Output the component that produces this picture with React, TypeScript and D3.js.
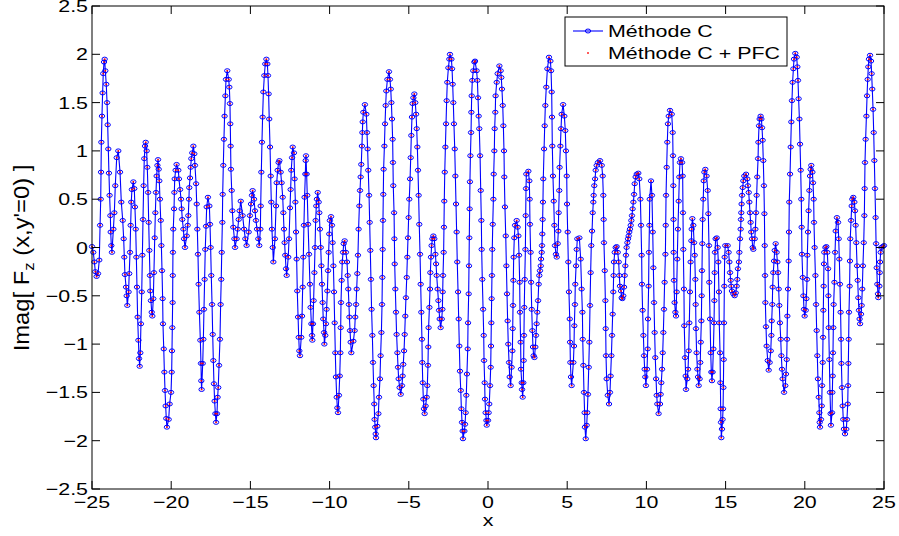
import React from 'react';
import * as d3 from 'd3';

// ---------- chart data ----------
const xTicks = [-25, -20, -15, -10, -5, 0, 5, 10, 15, 20, 25];
const yTicks = [-2.5, -2, -1.5, -1, -0.5, 0, 0.5, 1, 1.5, 2, 2.5];
const legendLabels = ['Méthode C', 'Méthode C + PFC'];
const xLabel = 'x';

// Méthode C : [x, Imag F_z]
const methodeC: [number, number][] = [
  [-25.0, 0.01], [-24.92, -0.05], [-24.85, -0.15], [-24.79, -0.25], [-24.71, -0.3], [-24.62, -0.27], [-24.54, -0.13],
  [-24.49, 0.23], [-24.45, 0.5], [-24.43, 0.78], [-24.41, 1.09], [-24.37, 1.36], [-24.33, 1.6], [-24.29, 1.8],
  [-24.24, 1.92], [-24.2, 1.95], [-24.16, 1.83], [-24.1, 1.69], [-24.05, 1.5], [-24.01, 1.27], [-23.97, 1.02],
  [-23.93, 0.77], [-23.89, 0.54], [-23.84, 0.33], [-23.82, 0.16], [-23.78, 0.02], [-23.74, -0.05], [-23.65, 0.19],
  [-23.59, 0.36], [-23.53, 0.64], [-23.44, 0.93], [-23.34, 1.0], [-23.23, 0.78], [-23.15, 0.47], [-23.06, 0.28],
  [-23.0, 0.09], [-22.96, -0.1], [-22.92, -0.28], [-22.85, -0.41], [-22.81, -0.5], [-22.77, -0.6], [-22.69, -0.46],
  [-22.65, -0.27], [-22.6, -0.05], [-22.56, 0.23], [-22.52, 0.47], [-22.48, 0.6], [-22.39, 0.68], [-22.33, 0.61],
  [-22.29, 0.42], [-22.24, 0.19], [-22.2, -0.1], [-22.16, -0.41], [-22.12, -0.72], [-22.07, -0.96], [-22.03, -1.15],
  [-21.99, -1.23], [-21.95, -1.09], [-21.91, -0.79], [-21.86, -0.46], [-21.82, -0.08], [-21.78, 0.29], [-21.74, 0.64],
  [-21.7, 0.92], [-21.65, 1.05], [-21.61, 1.09], [-21.55, 1.0], [-21.51, 0.83], [-21.46, 0.57], [-21.42, 0.26],
  [-21.38, -0.03], [-21.34, -0.29], [-21.32, -0.45], [-21.28, -0.55], [-21.23, -0.67], [-21.19, -0.71], [-21.13, -0.53],
  [-21.09, -0.26], [-21.04, 0.1], [-21.0, 0.36], [-20.96, 0.57], [-20.92, 0.74], [-20.87, 0.85], [-20.83, 0.91],
  [-20.79, 0.81], [-20.75, 0.69], [-20.71, 0.5], [-20.66, 0.28], [-20.62, 0.02], [-20.58, -0.24], [-20.54, -0.53],
  [-20.52, -0.79], [-20.47, -1.05], [-20.43, -1.29], [-20.39, -1.48], [-20.35, -1.64], [-20.31, -1.77], [-20.27, -1.86],
  [-20.16, -1.78], [-20.1, -1.62], [-20.01, -1.5], [-19.97, -1.29], [-19.95, -1.07], [-19.93, -0.83], [-19.91, -0.57],
  [-19.9, -0.29], [-19.89, -0.05], [-19.87, 0.19], [-19.82, 0.4], [-19.8, 0.57], [-19.78, 0.71], [-19.72, 0.8],
  [-19.66, 0.86], [-19.55, 0.8], [-19.51, 0.71], [-19.44, 0.6], [-19.38, 0.5], [-19.34, 0.4], [-19.3, 0.29],
  [-19.23, 0.19], [-19.19, 0.09], [-19.13, 0.0], [-19.02, 0.12], [-18.96, 0.23], [-18.92, 0.33], [-18.88, 0.5],
  [-18.86, 0.62], [-18.81, 0.72], [-18.77, 0.83], [-18.73, 0.92], [-18.67, 0.98], [-18.6, 1.05], [-18.54, 0.97],
  [-18.5, 0.85], [-18.43, 0.66], [-18.39, 0.45], [-18.35, 0.19], [-18.31, -0.07], [-18.27, -0.38], [-18.22, -0.67],
  [-18.16, -0.96], [-18.12, -1.2], [-18.1, -1.38], [-18.08, -1.47], [-18.01, -1.2], [-17.97, -0.95], [-17.93, -0.64],
  [-17.89, -0.33], [-17.85, -0.02], [-17.8, 0.22], [-17.76, 0.42], [-17.68, 0.52], [-17.59, 0.43], [-17.55, 0.24],
  [-17.51, 0.0], [-17.47, -0.29], [-17.42, -0.59], [-17.38, -0.9], [-17.34, -1.17], [-17.3, -1.41], [-17.26, -1.59],
  [-17.21, -1.72], [-17.17, -1.81], [-17.11, -1.72], [-17.07, -1.55], [-17.03, -1.45], [-16.98, -1.22], [-16.92, -0.95],
  [-16.88, -0.59], [-16.84, -0.33], [-16.81, -0.05], [-16.77, 0.26], [-16.75, 0.55], [-16.71, 0.85], [-16.67, 1.12],
  [-16.63, 1.36], [-16.58, 1.57], [-16.54, 1.74], [-16.46, 1.83], [-16.37, 1.74], [-16.33, 1.66], [-16.29, 1.49],
  [-16.27, 1.28], [-16.25, 1.05], [-16.23, 0.81], [-16.18, 0.59], [-16.14, 0.38], [-16.08, 0.21], [-16.01, 0.09],
  [-15.97, 0.0], [-15.87, 0.09], [-15.8, 0.19], [-15.74, 0.29], [-15.68, 0.38], [-15.61, 0.48], [-15.49, 0.33],
  [-15.4, 0.19], [-15.32, 0.09], [-15.24, 0.02], [-15.11, 0.16], [-15.03, 0.33], [-14.96, 0.45], [-14.9, 0.54],
  [-14.86, 0.59], [-14.77, 0.5], [-14.71, 0.38], [-14.65, 0.28], [-14.58, 0.19], [-14.5, 0.09], [-14.44, 0.02],
  [-14.37, 0.19], [-14.35, 0.43], [-14.31, 0.78], [-14.27, 1.09], [-14.23, 1.35], [-14.18, 1.61], [-14.12, 1.78],
  [-14.06, 1.9], [-13.99, 1.95], [-13.93, 1.9], [-13.89, 1.78], [-13.85, 1.59], [-13.81, 1.33], [-13.76, 1.04],
  [-13.72, 0.74], [-13.68, 0.47], [-13.64, 0.19], [-13.59, 0.0], [-13.55, -0.15], [-13.45, 0.09], [-13.38, 0.43],
  [-13.34, 0.67], [-13.28, 0.8], [-13.22, 0.88], [-13.17, 0.9], [-13.09, 0.78], [-13.03, 0.67], [-12.96, 0.52],
  [-12.92, 0.36], [-12.88, 0.19], [-12.84, 0.05], [-12.8, -0.08], [-12.75, -0.22], [-12.71, -0.29], [-12.61, -0.1],
  [-12.56, 0.09], [-12.5, 0.41], [-12.46, 0.6], [-12.42, 0.8], [-12.37, 0.93], [-12.33, 1.04], [-12.25, 0.98],
  [-12.21, 0.71], [-12.16, 0.47], [-12.12, 0.16], [-12.08, -0.12], [-12.04, -0.45], [-11.99, -0.72], [-11.95, -0.93],
  [-11.91, -1.07], [-11.87, -1.12], [-11.79, -0.93], [-11.74, -0.71], [-11.7, -0.41], [-11.66, -0.1], [-11.62, 0.23],
  [-11.58, 0.52], [-11.53, 0.76], [-11.51, 0.9], [-11.49, 0.95], [-11.45, 0.76], [-11.41, 0.54], [-11.36, 0.24],
  [-11.3, -0.07], [-11.24, -0.38], [-11.2, -0.62], [-11.15, -0.79], [-11.11, -0.91], [-11.09, -0.96], [-11.05, -0.79],
  [-11.01, -0.55], [-10.96, -0.26], [-10.92, 0.0], [-10.88, 0.28], [-10.84, 0.43], [-10.8, 0.5], [-10.75, 0.57],
  [-10.69, 0.47], [-10.65, 0.36], [-10.61, 0.19], [-10.56, 0.0], [-10.52, -0.19], [-10.48, -0.38], [-10.44, -0.57],
  [-10.4, -0.74], [-10.35, -0.88], [-10.33, -1.0], [-10.27, -0.91], [-10.23, -0.79], [-10.19, -0.64], [-10.14, -0.45],
  [-10.1, -0.24], [-10.06, -0.05], [-10.02, 0.14], [-9.98, 0.28], [-9.91, 0.32], [-9.85, 0.23], [-9.81, 0.05],
  [-9.76, -0.19], [-9.72, -0.46], [-9.68, -0.78], [-9.64, -1.09], [-9.6, -1.34], [-9.55, -1.55], [-9.51, -1.66],
  [-9.47, -1.71], [-9.41, -1.53], [-9.36, -1.33], [-9.32, -1.09], [-9.3, -0.83], [-9.28, -0.57], [-9.24, -0.34],
  [-9.2, -0.15], [-9.15, -0.05], [-9.11, 0.04], [-9.05, 0.07], [-8.97, -0.05], [-8.9, -0.15], [-8.86, -0.29],
  [-8.82, -0.43], [-8.78, -0.59], [-8.75, -0.72], [-8.71, -0.86], [-8.67, -0.98], [-8.63, -1.09], [-8.5, -0.97],
  [-8.42, -0.86], [-8.38, -0.72], [-8.33, -0.59], [-8.29, -0.43], [-8.25, -0.27], [-8.21, -0.08], [-8.17, 0.19],
  [-8.12, 0.43], [-8.08, 0.59], [-8.04, 0.73], [-8.0, 0.86], [-7.96, 1.05], [-7.93, 1.19], [-7.91, 1.3],
  [-7.87, 1.4], [-7.77, 1.48], [-7.68, 1.38], [-7.64, 1.19], [-7.6, 1.02], [-7.56, 0.8], [-7.51, 0.54],
  [-7.47, 0.26], [-7.43, -0.03], [-7.39, -0.33], [-7.35, -0.64], [-7.3, -0.91], [-7.26, -1.19], [-7.22, -1.43],
  [-7.18, -1.62], [-7.16, -1.78], [-7.12, -1.86], [-7.09, -1.93], [-7.07, -1.97], [-6.99, -1.85], [-6.92, -1.72],
  [-6.88, -1.55], [-6.82, -1.36], [-6.78, -1.12], [-6.73, -0.88], [-6.69, -0.59], [-6.67, -0.31], [-6.65, -0.02],
  [-6.63, 0.28], [-6.61, 0.55], [-6.59, 0.81], [-6.54, 1.05], [-6.5, 1.28], [-6.46, 1.47], [-6.42, 1.62],
  [-6.35, 1.74], [-6.25, 1.82], [-6.19, 1.74], [-6.14, 1.64], [-6.1, 1.5], [-6.06, 1.33], [-6.02, 1.12],
  [-6.0, 0.88], [-5.98, 0.64], [-5.93, 0.36], [-5.91, 0.09], [-5.89, -0.17], [-5.85, -0.43], [-5.81, -0.67],
  [-5.77, -0.9], [-5.72, -1.09], [-5.68, -1.24], [-5.64, -1.36], [-5.58, -1.45], [-5.51, -1.52], [-5.43, -1.43],
  [-5.39, -1.33], [-5.35, -1.21], [-5.3, -1.07], [-5.26, -0.9], [-5.22, -0.71], [-5.18, -0.52], [-5.13, -0.31],
  [-5.09, -0.1], [-5.05, 0.1], [-5.01, 0.31], [-4.97, 0.5], [-4.92, 0.71], [-4.88, 0.93], [-4.84, 1.16],
  [-4.8, 1.35], [-4.76, 1.49], [-4.71, 1.55], [-4.65, 1.59], [-4.59, 1.5], [-4.54, 1.38], [-4.5, 1.23],
  [-4.46, 1.04], [-4.42, 0.8], [-4.38, 0.54], [-4.34, 0.24], [-4.29, -0.07], [-4.25, -0.38], [-4.21, -0.67],
  [-4.17, -0.95], [-4.15, -1.19], [-4.12, -1.4], [-4.08, -1.57], [-4.04, -1.67], [-4.0, -1.72], [-3.94, -1.64],
  [-3.87, -1.55], [-3.83, -1.43], [-3.79, -1.22], [-3.77, -1.03], [-3.75, -0.83], [-3.7, -0.62], [-3.66, -0.43],
  [-3.64, -0.26], [-3.6, -0.1], [-3.56, 0.02], [-3.51, 0.09], [-3.45, 0.12], [-3.39, 0.09], [-3.32, -0.07],
  [-3.28, -0.17], [-3.24, -0.29], [-3.18, -0.43], [-3.13, -0.55], [-3.09, -0.65], [-3.05, -0.74], [-2.99, -0.83],
  [-2.92, -0.74], [-2.88, -0.64], [-2.86, -0.46], [-2.84, -0.29], [-2.8, -0.05], [-2.78, 0.21], [-2.76, 0.48],
  [-2.73, 0.78], [-2.69, 1.04], [-2.65, 1.28], [-2.61, 1.52], [-2.57, 1.71], [-2.5, 1.86], [-2.44, 1.95],
  [-2.4, 2.0], [-2.31, 1.95], [-2.27, 1.85], [-2.23, 1.69], [-2.19, 1.5], [-2.15, 1.28], [-2.1, 1.02],
  [-2.06, 0.74], [-2.02, 0.45], [-1.98, 0.16], [-1.94, -0.15], [-1.89, -0.46], [-1.85, -0.74], [-1.81, -1.02],
  [-1.77, -1.28], [-1.72, -1.48], [-1.68, -1.67], [-1.64, -1.81], [-1.6, -1.9], [-1.58, -1.98], [-1.49, -1.9],
  [-1.45, -1.83], [-1.41, -1.71], [-1.37, -1.53], [-1.33, -1.31], [-1.28, -1.05], [-1.26, -0.78], [-1.22, -0.48],
  [-1.2, -0.19], [-1.18, 0.1], [-1.16, 0.4], [-1.14, 0.68], [-1.11, 0.95], [-1.07, 1.19], [-1.05, 1.4],
  [-1.03, 1.57], [-0.99, 1.73], [-0.93, 1.83], [-0.86, 1.92], [-0.82, 1.93], [-0.72, 1.83], [-0.67, 1.73],
  [-0.63, 1.55], [-0.59, 1.36], [-0.55, 1.23], [-0.5, 0.95], [-0.46, 0.59], [-0.42, 0.28], [-0.4, -0.02],
  [-0.36, -0.33], [-0.31, -0.64], [-0.27, -0.91], [-0.25, -1.17], [-0.21, -1.4], [-0.19, -1.57], [-0.15, -1.71],
  [-0.1, -1.79], [-0.08, -1.84], [0.0, -1.79], [0.04, -1.71], [0.08, -1.62], [0.13, -1.43], [0.17, -1.24],
  [0.19, -1.02], [0.21, -0.78], [0.23, -0.53], [0.25, -0.29], [0.27, -0.02], [0.3, 0.24], [0.34, 0.5],
  [0.36, 0.76], [0.4, 1.0], [0.42, 1.23], [0.46, 1.4], [0.48, 1.57], [0.55, 1.71], [0.61, 1.8],
  [0.72, 1.88], [0.8, 1.83], [0.84, 1.76], [0.88, 1.64], [0.93, 1.47], [0.97, 1.26], [1.01, 1.0],
  [1.03, 0.73], [1.07, 0.42], [1.12, 0.12], [1.16, -0.19], [1.2, -0.48], [1.24, -0.76], [1.28, -1.0],
  [1.33, -1.19], [1.37, -1.34], [1.43, -1.43], [1.49, -1.24], [1.54, -1.07], [1.56, -0.84], [1.58, -0.6],
  [1.6, -0.34], [1.62, -0.1], [1.66, 0.1], [1.71, 0.23], [1.81, 0.28], [1.87, 0.21], [1.92, 0.12],
  [1.96, -0.08], [2.0, -0.36], [2.02, -0.67], [2.06, -0.98], [2.08, -1.26], [2.13, -1.4], [2.15, -1.47],
  [2.19, -1.55], [2.23, -1.4], [2.25, -1.17], [2.27, -0.91], [2.29, -0.62], [2.32, -0.33], [2.36, -0.02],
  [2.38, 0.33], [2.4, 0.61], [2.42, 0.76], [2.55, 0.79], [2.61, 0.69], [2.63, 0.5], [2.65, 0.24],
  [2.69, -0.05], [2.72, -0.36], [2.76, -0.64], [2.8, -0.86], [2.84, -1.03], [2.88, -1.12], [2.93, -1.14],
  [2.99, -1.03], [3.03, -0.91], [3.07, -0.79], [3.11, -0.67], [3.16, -0.55], [3.2, -0.38], [3.24, -0.29],
  [3.28, -0.24], [3.33, -0.19], [3.35, -0.12], [3.39, -0.05], [3.41, 0.02], [3.43, 0.14], [3.45, 0.29],
  [3.47, 0.47], [3.49, 0.71], [3.54, 1.02], [3.58, 1.26], [3.62, 1.47], [3.68, 1.66], [3.75, 1.85],
  [3.85, 1.97], [3.94, 1.93], [3.98, 1.83], [4.02, 1.61], [4.04, 1.35], [4.06, 1.05], [4.1, 0.74],
  [4.15, 0.48], [4.19, 0.23], [4.23, 0.02], [4.29, -0.07], [4.34, -0.1], [4.4, 0.04], [4.44, 0.17],
  [4.46, 0.36], [4.5, 0.59], [4.52, 0.83], [4.57, 1.05], [4.61, 1.23], [4.65, 1.38], [4.74, 1.48],
  [4.82, 1.36], [4.88, 1.21], [4.92, 1.0], [4.97, 0.74], [4.99, 0.45], [5.03, 0.16], [5.07, -0.15],
  [5.11, -0.46], [5.16, -0.74], [5.18, -0.98], [5.2, -1.19], [5.24, -1.34], [5.28, -1.43], [5.39, -1.19],
  [5.43, -1.02], [5.45, -0.81], [5.49, -0.59], [5.51, -0.38], [5.56, -0.19], [5.6, -0.02], [5.64, 0.09],
  [5.77, 0.1], [5.85, -0.12], [5.91, -0.43], [5.96, -0.67], [5.98, -0.95], [6.02, -1.22], [6.06, -1.5],
  [6.1, -1.71], [6.12, -1.86], [6.17, -1.98], [6.23, -1.84], [6.27, -1.71], [6.31, -1.52], [6.36, -1.24],
  [6.4, -0.98], [6.44, -0.6], [6.48, -0.26], [6.52, 0.02], [6.57, 0.17], [6.61, 0.36], [6.65, 0.47],
  [6.67, 0.54], [6.71, 0.64], [6.76, 0.71], [6.8, 0.8], [6.86, 0.85], [6.94, 0.88], [7.07, 0.9],
  [7.18, 0.85], [7.24, 0.74], [7.28, 0.54], [7.3, 0.29], [7.32, 0.05], [7.37, -0.24], [7.41, -0.55],
  [7.43, -0.84], [7.45, -1.12], [7.49, -1.36], [7.56, -1.53], [7.64, -1.62], [7.7, -1.5], [7.74, -1.33],
  [7.79, -1.12], [7.83, -0.91], [7.87, -0.69], [7.91, -0.46], [7.93, -0.29], [7.95, -0.15], [8.0, -0.05],
  [8.06, 0.0], [8.12, 0.01], [8.19, -0.05], [8.25, -0.15], [8.29, -0.29], [8.33, -0.4], [8.4, -0.45],
  [8.44, -0.52], [8.48, -0.53], [8.54, -0.5], [8.59, -0.41], [8.63, -0.29], [8.67, -0.19], [8.71, -0.08],
  [8.75, 0.0], [8.8, 0.05], [8.84, 0.09], [8.88, 0.12], [8.92, 0.16], [8.96, 0.19], [9.01, 0.23],
  [9.05, 0.28], [9.09, 0.33], [9.13, 0.4], [9.18, 0.47], [9.22, 0.55], [9.26, 0.66], [9.32, 0.73],
  [9.39, 0.76], [9.49, 0.77], [9.55, 0.71], [9.62, 0.5], [9.66, 0.23], [9.7, -0.08], [9.72, -0.38],
  [9.76, -0.65], [9.81, -0.91], [9.85, -1.12], [9.89, -1.26], [9.93, -1.34], [9.97, -1.43], [10.04, -1.26],
  [10.08, -1.05], [10.1, -0.74], [10.14, -0.4], [10.16, -0.05], [10.19, 0.23], [10.21, 0.5], [10.29, 0.69],
  [10.35, 0.54], [10.4, 0.16], [10.44, -0.21], [10.48, -0.57], [10.52, -0.88], [10.56, -1.14], [10.61, -1.36],
  [10.65, -1.53], [10.69, -1.62], [10.77, -1.72], [10.86, -1.62], [10.9, -1.52], [10.94, -1.4], [10.99, -1.26],
  [11.03, -1.09], [11.07, -0.88], [11.11, -0.64], [11.15, -0.36], [11.2, -0.07], [11.22, 0.23], [11.24, 0.54],
  [11.28, 0.83], [11.32, 1.09], [11.36, 1.28], [11.41, 1.36], [11.49, 1.42], [11.6, 1.38], [11.66, 1.19],
  [11.68, 0.95], [11.7, 0.64], [11.71, 0.29], [11.72, -0.05], [11.74, -0.34], [11.78, -0.57], [11.83, -0.67],
  [11.87, -0.71], [11.91, -0.46], [11.95, -0.12], [11.99, 0.19], [12.04, 0.48], [12.08, 0.73], [12.12, 0.88],
  [12.18, 0.92], [12.25, 0.88], [12.29, 0.74], [12.31, 0.36], [12.33, -0.02], [12.37, -0.43], [12.39, -0.81],
  [12.44, -1.14], [12.48, -1.33], [12.5, -1.47], [12.58, -1.36], [12.63, -1.26], [12.67, -1.07], [12.71, -0.78],
  [12.75, -0.46], [12.79, -0.15], [12.84, 0.07], [12.86, 0.19], [12.9, 0.3], [12.96, 0.23], [13.01, 0.05],
  [13.05, -0.08], [13.09, -0.33], [13.11, -0.59], [13.13, -0.84], [13.17, -1.09], [13.22, -1.26], [13.26, -1.34],
  [13.3, -1.43], [13.36, -1.36], [13.4, -1.19], [13.43, -0.98], [13.47, -0.76], [13.49, -0.5], [13.51, -0.24],
  [13.53, 0.04], [13.55, 0.29], [13.59, 0.5], [13.62, 0.69], [13.66, 0.78], [13.72, 0.81], [13.8, 0.74],
  [13.87, 0.59], [13.91, 0.35], [13.95, 0.02], [13.97, -0.36], [14.02, -0.74], [14.06, -1.09], [14.1, -1.29],
  [14.14, -1.38], [14.18, -1.29], [14.23, -1.05], [14.27, -0.78], [14.29, -0.55], [14.31, -0.26], [14.33, -0.05],
  [14.37, 0.09], [14.44, 0.1], [14.5, 0.0], [14.54, -0.15], [14.58, -0.46], [14.6, -0.78], [14.65, -1.09],
  [14.67, -1.4], [14.69, -1.67], [14.71, -1.81], [14.73, -1.97], [14.77, -1.88], [14.81, -1.78], [14.84, -1.67],
  [14.86, -1.45], [14.88, -1.16], [14.9, -0.78], [14.92, -0.4], [14.94, -0.1], [14.98, 0.02], [15.13, 0.02],
  [15.19, -0.05], [15.24, -0.15], [15.28, -0.26], [15.32, -0.34], [15.36, -0.4], [15.4, -0.45], [15.49, -0.48],
  [15.57, -0.5], [15.64, -0.47], [15.7, -0.4], [15.74, -0.33], [15.78, -0.22], [15.84, -0.15], [15.87, -0.05],
  [15.91, 0.09], [15.95, 0.19], [15.97, 0.29], [15.99, 0.36], [16.01, 0.45], [16.04, 0.54], [16.08, 0.62],
  [16.12, 0.69], [16.18, 0.74], [16.29, 0.76], [16.37, 0.71], [16.41, 0.64], [16.46, 0.57], [16.5, 0.47],
  [16.54, 0.36], [16.58, 0.26], [16.62, 0.16], [16.67, 0.09], [16.71, 0.0], [16.75, -0.02], [16.84, 0.09],
  [16.88, 0.19], [16.92, 0.36], [16.96, 0.54], [17.0, 0.73], [17.05, 0.92], [17.07, 1.09], [17.11, 1.26],
  [17.15, 1.33], [17.21, 1.36], [17.26, 1.33], [17.3, 1.24], [17.34, 1.11], [17.38, 0.9], [17.42, 0.64],
  [17.45, 0.35], [17.47, 0.02], [17.49, -0.29], [17.51, -0.57], [17.55, -0.82], [17.59, -1.02], [17.66, -1.17],
  [17.72, -1.27], [17.78, -1.19], [17.85, -1.07], [17.89, -0.91], [17.91, -0.76], [17.95, -0.59], [17.97, -0.41],
  [18.01, -0.26], [18.06, -0.14], [18.1, -0.03], [18.16, 0.04], [18.22, -0.05], [18.27, -0.15], [18.31, -0.26],
  [18.35, -0.43], [18.39, -0.6], [18.43, -0.78], [18.48, -0.95], [18.52, -1.12], [18.56, -1.26], [18.6, -1.36],
  [18.69, -1.5], [18.77, -1.43], [18.81, -1.31], [18.86, -1.16], [18.88, -0.95], [18.9, -0.71], [18.94, -0.43],
  [18.98, -0.14], [19.0, 0.16], [19.02, 0.47], [19.07, 0.76], [19.11, 1.04], [19.15, 1.3], [19.19, 1.52],
  [19.23, 1.71], [19.28, 1.85], [19.32, 1.95], [19.4, 2.01], [19.49, 1.97], [19.53, 1.87], [19.57, 1.73],
  [19.61, 1.54], [19.66, 1.33], [19.7, 1.07], [19.74, 0.8], [19.78, 0.5], [19.8, 0.21], [19.82, -0.07],
  [19.87, -0.31], [19.91, -0.5], [19.95, -0.64], [19.99, -0.71], [20.06, -0.65], [20.1, -0.53], [20.14, -0.33],
  [20.16, -0.08], [20.2, 0.16], [20.24, 0.38], [20.29, 0.59], [20.33, 0.74], [20.37, 0.81], [20.41, 0.85],
  [20.48, 0.78], [20.52, 0.67], [20.56, 0.5], [20.58, 0.26], [20.62, 0.0], [20.67, -0.29], [20.71, -0.59],
  [20.75, -0.86], [20.79, -1.12], [20.83, -1.36], [20.88, -1.55], [20.92, -1.71], [20.94, -1.81], [20.96, -1.86],
  [21.02, -1.78], [21.07, -1.64], [21.09, -1.43], [21.13, -1.19], [21.15, -0.93], [21.17, -0.65], [21.19, -0.4],
  [21.21, -0.17], [21.23, -0.05], [21.3, 0.0], [21.36, 0.01], [21.42, -0.05], [21.47, -0.22], [21.49, -0.5],
  [21.51, -0.83], [21.55, -1.16], [21.59, -1.5], [21.63, -1.72], [21.65, -1.84], [21.72, -1.71], [21.74, -1.5],
  [21.76, -1.33], [21.78, -1.09], [21.8, -0.83], [21.82, -0.59], [21.87, -0.36], [21.91, -0.05], [21.95, 0.17],
  [22.03, 0.31], [22.1, 0.26], [22.14, 0.09], [22.18, -0.12], [22.22, -0.38], [22.26, -0.67], [22.29, -0.95],
  [22.31, -1.2], [22.35, -1.45], [22.39, -1.64], [22.43, -1.78], [22.47, -1.88], [22.54, -1.93], [22.62, -1.88],
  [22.66, -1.78], [22.71, -1.62], [22.73, -1.43], [22.75, -1.2], [22.77, -0.95], [22.79, -0.67], [22.83, -0.4],
  [22.85, -0.14], [22.87, 0.09], [22.92, 0.28], [22.96, 0.43], [23.0, 0.5], [23.06, 0.52], [23.13, 0.47],
  [23.17, 0.38], [23.21, 0.23], [23.25, 0.05], [23.3, -0.19], [23.34, -0.34], [23.38, -0.52], [23.42, -0.65],
  [23.46, -0.74], [23.49, -0.79], [23.55, -0.69], [23.59, -0.6], [23.63, -0.43], [23.67, -0.19], [23.72, 0.05],
  [23.76, 0.33], [23.78, 0.61], [23.8, 0.88], [23.84, 1.12], [23.89, 1.36], [23.93, 1.57], [23.97, 1.74],
  [24.01, 1.87], [24.05, 1.95], [24.12, 1.99], [24.18, 1.93], [24.22, 1.8], [24.26, 1.64], [24.31, 1.43],
  [24.35, 1.19], [24.39, 0.9], [24.43, 0.61], [24.47, 0.31], [24.5, 0.04], [24.54, -0.21], [24.58, -0.38],
  [24.62, -0.48], [24.64, -0.52], [24.71, -0.4], [24.73, -0.26], [24.75, -0.15], [24.79, -0.05], [24.83, 0.0],
  [24.92, 0.01], [25.0, 0.02],
];
// Méthode C + PFC : red dots coincide with the Méthode C samples
const methodeCPFC: [number, number][] = methodeC;

// ---------- layout ----------
const WIDTH = 899;
const HEIGHT = 536;
const PLOT = { left: 92, right: 884, top: 6, bottom: 489 };
const FONT = "'Liberation Sans', Arial, Helvetica, sans-serif";
const FS = 17;
const SX = 1.26; // horizontal stretch of the exported figure
const BLUE = '#0000ff';
const RED = '#ff0000';

const fmt = (v: number) => (v < 0 ? '\u2212' : '') + String(Math.abs(v));

export default function App() {
  const x = d3.scaleLinear().domain([-25, 25]).range([PLOT.left, PLOT.right]);
  const y = d3.scaleLinear().domain([-2.5, 2.5]).range([PLOT.bottom, PLOT.top]);
  const line = d3
    .line<[number, number]>()
    .x((d) => x(d[0]))
    .y((d) => y(d[1]));

  const tick = 8;

  return (
    <svg
      width={WIDTH}
      height={HEIGHT}
      style={{ position: 'absolute', left: 0, top: 0, background: '#fff' }}
      fontFamily={FONT}
    >
      <rect x={0} y={0} width={WIDTH} height={HEIGHT} fill="#fff" />

      {/* series */}
      <path d={line(methodeC) || ''} fill="none" stroke={BLUE} strokeWidth={1.1} />
      <g fill="none" stroke={BLUE} strokeWidth={1}>
        {methodeC.map((d, i) => (
          <ellipse key={i} cx={x(d[0])} cy={y(d[1])} rx={2.7} ry={2.0} />
        ))}
      </g>
      <g fill={RED}>
        {methodeCPFC.map((d, i) => (
          <rect key={i} x={x(d[0]) - 0.8} y={y(d[1]) - 0.8} width={1.6} height={1.6} />
        ))}
      </g>

      {/* ticks */}
      <g stroke="#000" strokeWidth={1}>
        {xTicks.map((t) => (
          <g key={'xt' + t}>
            <line x1={x(t)} x2={x(t)} y1={PLOT.bottom} y2={PLOT.bottom - tick} />
            <line x1={x(t)} x2={x(t)} y1={PLOT.top} y2={PLOT.top + tick} />
          </g>
        ))}
        {yTicks.map((t) => (
          <g key={'yt' + t}>
            <line x1={PLOT.left} x2={PLOT.left + tick} y1={y(t)} y2={y(t)} />
            <line x1={PLOT.right} x2={PLOT.right - tick} y1={y(t)} y2={y(t)} />
          </g>
        ))}
      </g>
      <rect
        x={PLOT.left}
        y={PLOT.top}
        width={PLOT.right - PLOT.left}
        height={PLOT.bottom - PLOT.top}
        fill="none"
        stroke="#000"
        strokeWidth={1}
      />

      {/* tick labels */}
      <g fontSize={FS} fill="#000">
        {xTicks.map((t) => (
          <text
            key={'xl' + t}
            transform={`translate(${x(t)},${PLOT.bottom + 19}) scale(${SX},1)`}
            textAnchor="middle"
          >
            {fmt(t)}
          </text>
        ))}
        {yTicks.map((t) => (
          <text
            key={'yl' + t}
            transform={`translate(${PLOT.left - 4},${y(t) + 6}) scale(${SX},1)`}
            textAnchor="end"
          >
            {fmt(t)}
          </text>
        ))}
      </g>

      {/* axis labels */}
      <text
        fontSize={FS}
        transform={`translate(${(PLOT.left + PLOT.right) / 2},${PLOT.bottom + 37}) scale(${SX},1)`}
        textAnchor="middle"
      >
        {xLabel}
      </text>
      <text
        fontSize={FS}
        transform={`translate(29,258) rotate(-90) scale(1.4,${SX})`}
        textAnchor="middle"
      >
        Imag[ F
        <tspan fontSize={12} dy={4}>z</tspan>
        <tspan dy={-4}> (x,y'=0) ]</tspan>
      </text>

      {/* legend */}
      <g>
        <rect x={565} y={17} width={222} height={49} fill="#fff" stroke="#000" strokeWidth={1} />
        <line x1={573} x2={603} y1={31} y2={31} stroke={BLUE} strokeWidth={1.1} />
        <ellipse cx={588} cy={31} rx={2.7} ry={2.0} fill="none" stroke={BLUE} strokeWidth={1} />
        <rect x={588 - 0.8} y={53 - 0.8} width={1.6} height={1.6} fill={RED} />
        <text fontSize={FS} transform={`translate(608,37) scale(${SX},1)`}>
          {legendLabels[0]}
        </text>
        <text fontSize={FS} transform={`translate(608,59) scale(${SX},1)`}>
          {legendLabels[1]}
        </text>
      </g>
    </svg>
  );
}
